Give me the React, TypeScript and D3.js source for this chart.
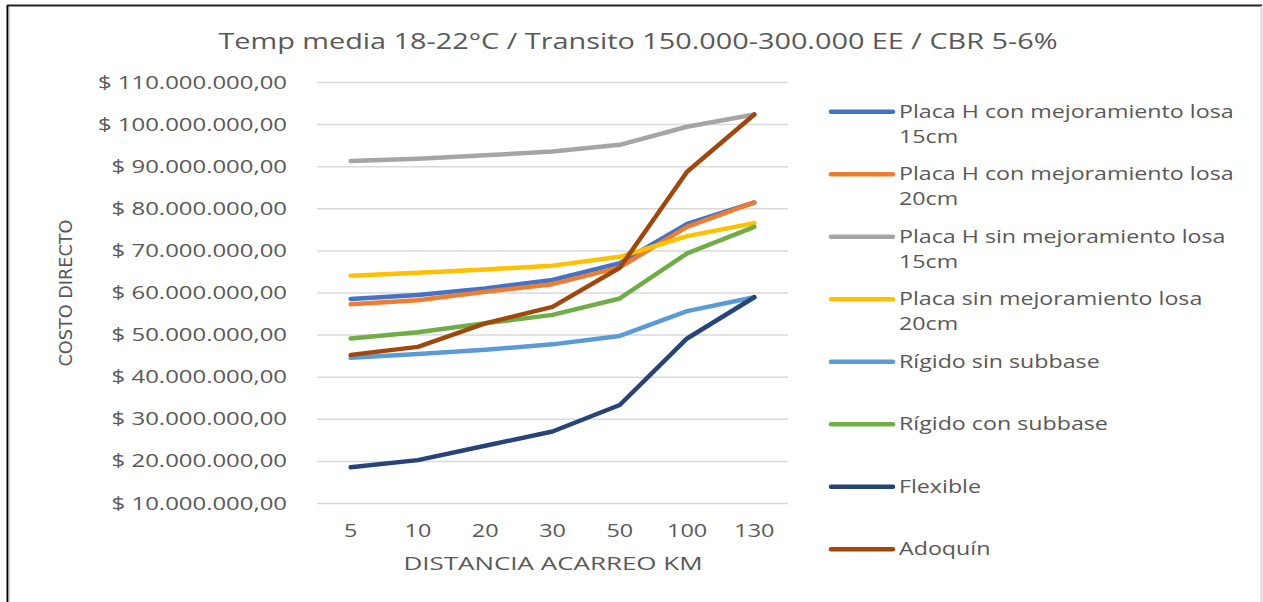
import React from "react";
import * as d3 from "d3";

const categories = ["5", "10", "20", "30", "50", "100", "130"];
const seriesNames = [
  "Placa H con mejoramiento losa 15cm",
  "Placa H con mejoramiento losa 20cm",
  "Placa H sin mejoramiento losa 15cm",
  "Placa sin mejoramiento losa 20cm",
  "Rígido sin subbase",
  "Rígido con subbase",
  "Flexible",
  "Adoquín",
];
const legendLines = [
  ["Placa H con mejoramiento losa", "15cm"],
  ["Placa H con mejoramiento losa", "20cm"],
  ["Placa H sin mejoramiento losa", "15cm"],
  ["Placa sin mejoramiento losa", "20cm"],
  ["Rígido sin subbase"],
  ["Rígido con subbase"],
  ["Flexible"],
  ["Adoquín"],
];
const placaH15 = [58.6, 59.5, 61.1, 63.1, 67.1, 76.4, 81.5];
const placaH20 = [57.3, 58.3, 60.3, 62.1, 66.1, 75.7, 81.5];
const placaHSin15 = [91.35, 91.9, 92.7, 93.6, 95.2, 99.5, 102.4];
const placaSin20 = [64.1, 64.8, 65.6, 66.5, 68.6, 73.5, 76.6];
const rigidoSin = [44.6, 45.5, 46.5, 47.8, 49.8, 55.7, 59.0];
const rigidoCon = [49.2, 50.7, 52.8, 54.8, 58.7, 69.4, 75.7];
const flexible = [18.6, 20.3, 23.7, 27.1, 33.4, 49.2, 59.0];
const adoquin = [45.3, 47.2, 52.8, 56.7, 66.0, 88.8, 102.4];
const seriesValues = [placaH15, placaH20, placaHSin15, placaSin20, rigidoSin, rigidoCon, flexible, adoquin];
const colors = ["#4472C4", "#ED7D31", "#A5A5A5", "#FFC000", "#5B9BD5", "#70AD47", "#264478", "#9E480E"];
const yTicks = [10, 20, 30, 40, 50, 60, 70, 80, 90, 100, 110];

const title = "Temp media 18-22°C / Transito 150.000-300.000 EE / CBR 5-6%";
const xTitle = "DISTANCIA ACARREO  KM";
const yTitle = "COSTO DIRECTO";

const fmt = (m: number) => `$ ${m}.000.000,00`;

const FONT = "'Open Sans', sans-serif";
const TC = "#595959";

function SText(props: { x: number; y: number; sx?: number; anchor?: string; size?: number; children: React.ReactNode }) {
  const { x, y, sx = 1.3, anchor = "start", size = 18, children } = props;
  return (
    <g transform={`translate(${x},${y}) scale(${sx},1)`}>
      <text x={0} y={0} textAnchor={anchor} fontSize={size} fill={TC} fontFamily={FONT}>
        {children}
      </text>
    </g>
  );
}

export default function App() {
  const W = 1263, H = 602;
  const x = d3.scaleBand<string>().domain(categories).range([317, 788]);
  const y = d3.scaleLinear().domain([10, 110]).range([503.5, 82.5]);
  const line = d3
    .line<number>()
    .x((_, i) => (x(categories[i]) as number) + x.bandwidth() / 2)
    .y((d) => y(d));
  const legendX = 831;
  const legendY0 = 111.7;
  const legendStep = 62.5;
  return (
    <svg width={W} height={H} style={{ position: "absolute", left: 0, top: 0, background: "#fff" }} fontFamily={FONT}>
      <rect x={0} y={0} width={W} height={H} fill="#fff" />
      <line x1={7.5} y1={5} x2={7.5} y2={H} stroke="#000" strokeWidth={2} />
      <line x1={7} y1={5.5} x2={1262} y2={5.5} stroke="#222" strokeWidth={2} />
      <line x1={1261.5} y1={6} x2={1261.5} y2={H} stroke="#d9d9d9" strokeWidth={2} />
      <line x1={9.5} y1={7} x2={9.5} y2={H} stroke="#d9d9d9" strokeWidth={1.5} />
      <text x={638} y={49} textAnchor="middle" fontSize={22} fill={TC} fontFamily={FONT} textLength={839} lengthAdjust="spacingAndGlyphs">
        {title}
      </text>
      {yTicks.map((t) => (
        <g key={t}>
          <line x1={317} x2={788} y1={y(t)} y2={y(t)} stroke="#d9d9d9" strokeWidth={1.5} />
          <SText x={287} y={y(t) + 6} anchor="end" sx={1.33}>
            {fmt(t)}
          </SText>
        </g>
      ))}
      {categories.map((c) => (
        <SText key={c} x={(x(c) as number) + x.bandwidth() / 2} y={537} anchor="middle">
          {c}
        </SText>
      ))}
      <text x={553} y={570} textAnchor="middle" fontSize={18} fill={TC} fontFamily={FONT} textLength={299} lengthAdjust="spacingAndGlyphs">
        {xTitle}
      </text>
      <text transform={`translate(72,293) rotate(-90)`} textAnchor="middle" fontSize={18} fill={TC} fontFamily="'Liberation Sans Narrow', 'DejaVu Sans Condensed', sans-serif" textLength={147} lengthAdjust="spacingAndGlyphs">
        {yTitle}
      </text>
      {seriesValues.map((vals, i) => (
        <path key={i} d={line(vals) as string} fill="none" stroke={colors[i]} strokeWidth={4.5} strokeLinecap="round" strokeLinejoin="round" />
      ))}
      {seriesNames.map((n, i) => {
        const ly = legendY0 + i * legendStep;
        return (
          <g key={n}>
            <line x1={legendX} x2={893} y1={ly} y2={ly} stroke={colors[i]} strokeWidth={4.5} strokeLinecap="round" />
            {legendLines[i].map((ln, j) => (
              <SText key={j} x={899} y={ly + 6 + j * 25} sx={1.29}>
                {ln}
              </SText>
            ))}
          </g>
        );
      })}
    </svg>
  );
}
